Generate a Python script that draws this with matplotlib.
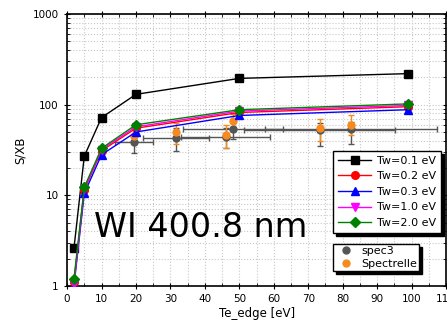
import numpy as np
import matplotlib.pyplot as plt
from matplotlib.lines import Line2D

# model curves
te_model = [2, 5, 10, 20, 50, 99]
sxb_tw01 = [2.6, 27, 72, 130, 195, 220]
sxb_tw02 = [1.1, 11.5, 31, 55, 82, 95]
sxb_tw03 = [1.0, 10.5, 28, 50, 76, 88]
sxb_tw10 = [1.05, 11.8, 32, 57, 85, 98]
sxb_tw20 = [1.2, 12.3, 33, 60, 88, 102]

# measurements
te_spec3 = [19.5, 31.6, 46.0, 48.2, 73.3, 82.3]
sxb_spec3 = [38.5, 42.6, 44.0, 54.0, 52.0, 54.0]
te_err_spec3 = [5.5, 9.5, 13.0, 14.5, 22.0, 25.0]
sxb_lo_spec3 = [29, 31, 33, 42, 35, 37]
sxb_hi_spec3 = [48, 56, 56, 64, 63, 64]

te_spectrelle = [19.5, 31.6, 46.0, 48.2, 73.3, 82.3]
sxb_spectrelle = [45.5, 49.5, 46.5, 66.0, 56.0, 60.0]
sxb_lo_spectrelle = [37, 37, 33, 57, 40, 46]
sxb_hi_spectrelle = [55, 62, 59, 78, 70, 76]

fig = plt.figure(figsize=(4.47, 3.23), dpi=100)
ax = fig.add_axes([0.150, 0.1146, 0.848, 0.842])

# error bar data
yerr3 = [np.array(sxb_spec3) - np.array(sxb_lo_spec3), np.array(sxb_hi_spec3) - np.array(sxb_spec3)]
ax.errorbar(te_spec3, sxb_spec3, xerr=te_err_spec3, yerr=yerr3, fmt="o", color="#555555",
            ecolor="#555555", markersize=5, capsize=2.5, elinewidth=1.0, zorder=3)
yerrs = [np.array(sxb_spectrelle) - np.array(sxb_lo_spectrelle),
         np.array(sxb_hi_spectrelle) - np.array(sxb_spectrelle)]
ax.errorbar(te_spectrelle, sxb_spectrelle, yerr=yerrs, fmt="o", color="#f68a1e",
            ecolor="#f68a1e", markersize=5, capsize=2.5, elinewidth=1.0, zorder=3)

lines = []
lines += ax.plot(te_model, sxb_tw01, "-s", color="black", lw=1, ms=5.5, label="Tw=0.1 eV", zorder=4)
lines += ax.plot(te_model, sxb_tw02, "-o", color="red", lw=1, ms=5.5, label="Tw=0.2 eV", zorder=4)
lines += ax.plot(te_model, sxb_tw03, "-^", color="blue", lw=1, ms=5.5, label="Tw=0.3 eV", zorder=4)
lines += ax.plot(te_model, sxb_tw10, "-v", color="magenta", lw=1, ms=5.5, label="Tw=1.0 eV", zorder=4)
lines += ax.plot(te_model, sxb_tw20, "-D", color="green", lw=1, ms=5, label="Tw=2.0 eV", zorder=4)

ax.set_yscale("log")
ax.set_xlim(0, 110)
ax.set_ylim(1, 1000)
ax.set_xticks(np.arange(0, 111, 10))
ax.set_xticks(np.arange(5, 110, 10), minor=True)
ax.grid(True, which="both", linestyle=":", color="#c8c8c8", linewidth=0.8)
ax.set_axisbelow(True)
ax.tick_params(which="both", top=True, right=True, labelsize=7.5)
ax.tick_params(which="major", direction="inout", length=5)
ax.tick_params(which="minor", direction="in", length=2.5)
ax.set_yticks([1, 10, 100, 1000])
ax.set_yticklabels(["1", "10", "100", "1000"])
for s in ax.spines.values():
    s.set_linewidth(1.2)

ax.set_xlabel("Te_edge [eV]", fontsize=8.5, labelpad=2)
ax.set_ylabel("S/XB", fontsize=8.5, labelpad=4)

ax.text(0.07, 0.215, "WI 400.8 nm", transform=ax.transAxes, fontsize=24, va="center", ha="left")

leg1 = ax.legend(handles=lines, loc="upper left", bbox_to_anchor=(0.702, 0.497), fontsize=8,
                 frameon=True, fancybox=False, edgecolor="black", framealpha=1,
                 shadow={"color": "black", "alpha": 1}, handlelength=3.0, borderpad=0.45,
                 labelspacing=0.5, handletextpad=0.5, borderaxespad=0)
leg1.get_frame().set_linewidth(1.0)
leg1.set_zorder(10)
ax.add_artist(leg1)

h3 = Line2D([], [], marker="o", ls="none", color="#555555", ms=5)
hs = Line2D([], [], marker="o", ls="none", color="#f68a1e", ms=5)
leg2 = ax.legend(handles=[h3, hs], labels=["spec3", "Spectrelle"], loc="upper left",
                 bbox_to_anchor=(0.702, 0.154), fontsize=8, frameon=True, fancybox=False,
                 edgecolor="black", framealpha=1, shadow={"color": "black", "alpha": 1},
                 handlelength=2.0, borderpad=0.2, labelspacing=0.2, handletextpad=0.3,
                 borderaxespad=0)
leg2.get_frame().set_linewidth(1.0)
leg2.set_zorder(10)

fig.savefig("out.png", dpi=100)
